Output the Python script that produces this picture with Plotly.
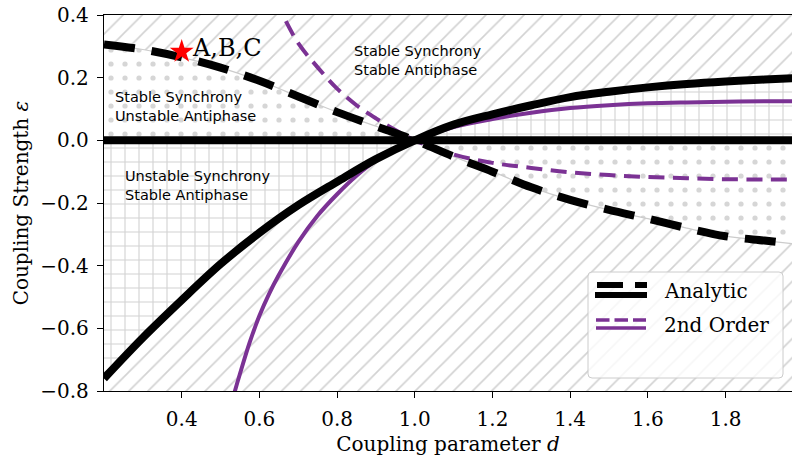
import plotly.graph_objects as go

# ---------------- data ----------------
X_RANGE = [0.2, 1.971]
Y_RANGE = [-0.8, 0.4]
X_TICKS = [0.4, 0.6, 0.8, 1.0, 1.2, 1.4, 1.6, 1.8]
X_TICK_LABELS = ["0.4", "0.6", "0.8", "1.0", "1.2", "1.4", "1.6", "1.8"]
Y_TICKS = [-0.8, -0.6, -0.4, -0.2, 0.0, 0.2, 0.4]
Y_TICK_LABELS = ["\u22120.8", "\u22120.6", "\u22120.4", "\u22120.2", "0.0", "0.2", "0.4"]

d_analytic = [0.2, 0.3, 0.4, 0.5, 0.6, 0.7, 0.8, 0.9, 1.0, 1.1, 1.2, 1.3,
              1.4, 1.5, 1.6, 1.7, 1.8, 1.9, 1.975]
eps_sync_analytic = [-0.76, -0.63, -0.51, -0.395, -0.295, -0.207, -0.132, -0.06, 0.0,
                     0.05, 0.083, 0.112, 0.138, 0.155, 0.169, 0.18, 0.188, 0.194, 0.198]
eps_anti_analytic = [0.306, 0.29, 0.265, 0.232, 0.19, 0.14, 0.09, 0.045, 0.0,
                     -0.052, -0.1, -0.15, -0.19, -0.222, -0.25, -0.28, -0.306, -0.32, -0.33]

d_zero = [0.2, 1.975]
eps_zero = [0.0, 0.0]

d_2nd_sync = [0.525, 0.537, 0.55, 0.575, 0.6, 0.625, 0.65, 0.7, 0.75, 0.8, 0.85, 0.9,
              0.95, 1.0, 1.1, 1.2, 1.3, 1.4, 1.5, 1.6, 1.7, 1.8, 1.9, 1.975]
eps_2nd_sync = [-0.855, -0.8, -0.745, -0.645, -0.56, -0.49, -0.43, -0.325, -0.24, -0.172,
                -0.113, -0.065, -0.029, 0.0, 0.042, 0.068, 0.088, 0.103, 0.112, 0.118,
                0.121, 0.123, 0.125, 0.125]

d_2nd_anti = [0.64, 0.66, 0.7, 0.75, 0.8, 0.85, 0.9, 0.95, 1.0, 1.1, 1.2, 1.3,
              1.4, 1.5, 1.6, 1.7, 1.8, 1.9, 1.975]
eps_2nd_anti = [0.45, 0.40, 0.31, 0.233, 0.165, 0.112, 0.07, 0.033, 0.0, -0.045,
                -0.072, -0.088, -0.102, -0.111, -0.117, -0.121, -0.124, -0.125, -0.125]

star_d = [0.4]
star_eps = [0.283]
star_label = "A,B,C"

region_labels = ["Stable Synchrony<br>Stable Antiphase",
                 "Stable Synchrony<br>Unstable Antiphase",
                 "Unstable Synchrony<br>Stable Antiphase"]
region_d = [0.838, 0.223, 0.249]
region_eps = [0.255, 0.108, -0.145]

legend_labels = ["Analytic", "2nd Order"]

# ---------------- styling ----------------
W, H = 792, 457
ML, MR, MT, MB = 104, 0, 15, 66
PW, PH = W - ML - MR, H - MT - MB
BLACK = "#000000"
PURPLE = "#7b3294"
HATCH = "#d2d2d2"
SERIF = "DejaVu Serif"
SANS = "DejaVu Sans"


def px(xp):
    return (xp - ML) / PW


def py(yp):
    return (H - MB - yp) / PH


fig = go.Figure()

# background diagonal hatch over the whole axes
fig.add_trace(go.Scatter(
    x=[X_RANGE[0], X_RANGE[1], X_RANGE[1], X_RANGE[0], X_RANGE[0]],
    y=[Y_RANGE[0], Y_RANGE[0], Y_RANGE[1], Y_RANGE[1], Y_RANGE[0]],
    mode="lines", line=dict(width=0, color="rgba(0,0,0,0)"), fill="toself",
    fillpattern=dict(shape="/", fgcolor=HATCH, bgcolor="white", size=13.5,
                     solidity=0.12, fillmode="replace"),
    hoverinfo="skip"))

# grid hatch: between synchrony boundary and zero
fig.add_trace(go.Scatter(
    x=d_analytic, y=eps_sync_analytic, mode="lines",
    line=dict(width=1.2, color="#cccccc", shape="spline"), fill="tozeroy",
    fillpattern=dict(shape="+", fgcolor=HATCH, bgcolor="white", size=14,
                     solidity=0.15, fillmode="replace"),
    hoverinfo="skip"))

# dotted hatch: between antiphase boundary and zero
fig.add_trace(go.Scatter(
    x=d_analytic, y=eps_anti_analytic, mode="lines",
    line=dict(width=1.2, color="#cccccc", shape="spline"), fill="tozeroy",
    fillpattern=dict(shape=".", fgcolor="#d6d6d6", bgcolor="white", size=14,
                     solidity=0.11, fillmode="replace"),
    hoverinfo="skip"))

# second order curves
fig.add_trace(go.Scatter(x=d_2nd_sync, y=eps_2nd_sync, mode="lines",
                         line=dict(color=PURPLE, width=4, shape="spline")))
fig.add_trace(go.Scatter(x=d_2nd_anti, y=eps_2nd_anti, mode="lines",
                         line=dict(color=PURPLE, width=4, dash="16px,8.5px", shape="spline")))

# analytic curves
fig.add_trace(go.Scatter(x=d_zero, y=eps_zero, mode="lines",
                         line=dict(color=BLACK, width=8)))
fig.add_trace(go.Scatter(x=d_analytic, y=eps_sync_analytic, mode="lines",
                         line=dict(color=BLACK, width=8, shape="spline")))
fig.add_trace(go.Scatter(x=d_analytic, y=eps_anti_analytic, mode="lines",
                         line=dict(color=BLACK, width=8, dash="31px,17px", shape="spline")))

# star
fig.add_trace(go.Scatter(x=star_d, y=star_eps, mode="markers",
                         marker=dict(symbol="star", size=18, color="red",
                                     line=dict(width=0)), cliponaxis=False))

annotations = []
annotations.append(dict(x=star_d[0], y=star_eps[0], xref="x", yref="y", text=star_label,
                        showarrow=False, xanchor="left", yanchor="middle", xshift=8, yshift=4,
                        font=dict(family=SERIF, size=24, color="black")))
for lab, xd, ye in zip(region_labels, region_d, region_eps):
    annotations.append(dict(x=xd, y=ye, xref="x", yref="y", text=lab, showarrow=False,
                            xanchor="left", yanchor="middle", align="left",
                            font=dict(family=SANS, size=14.5, color="black")))

# custom legend
shapes = []
x0, x1, y0, y1 = px(588), px(783), py(378), py(272)
rx, ry = 4 / PW, 4 / PH
path = (f"M{x0+rx},{y0} L{x1-rx},{y0} Q{x1},{y0} {x1},{y0+ry} L{x1},{y1-ry} "
        f"Q{x1},{y1} {x1-rx},{y1} L{x0+rx},{y1} Q{x0},{y1} {x0},{y1-ry} "
        f"L{x0},{y0+ry} Q{x0},{y0} {x0+rx},{y0} Z")
shapes.append(dict(type="path", path=path, xref="paper", yref="paper",
                   fillcolor="rgba(255,255,255,0.8)", line=dict(color="#cccccc", width=1)))
shapes.append(dict(type="line", xref="paper", yref="paper", x0=px(597), x1=px(647),
                   y0=py(285), y1=py(285), line=dict(color=BLACK, width=6, dash="26px,12px")))
shapes.append(dict(type="line", xref="paper", yref="paper", x0=px(595), x1=px(647),
                   y0=py(295), y1=py(295), line=dict(color=BLACK, width=6)))
shapes.append(dict(type="line", xref="paper", yref="paper", x0=px(596), x1=px(646),
                   y0=py(320), y1=py(320), line=dict(color=PURPLE, width=3.5, dash="13.5px,5px")))
shapes.append(dict(type="line", xref="paper", yref="paper", x0=px(596), x1=px(646),
                   y0=py(328), y1=py(328), line=dict(color=PURPLE, width=3.5)))
for lab, yc in zip(legend_labels, [291, 325]):
    annotations.append(dict(x=px(662), y=py(yc), xref="paper", yref="paper", text=lab,
                            showarrow=False, xanchor="left", yanchor="middle",
                            font=dict(family=SERIF, size=20, color="black")))

fig.update_layout(
    width=W, height=H, margin=dict(l=ML, r=MR, t=MT, b=MB),
    paper_bgcolor="white", plot_bgcolor="white", showlegend=False,
    annotations=annotations, shapes=shapes,
    xaxis=dict(range=X_RANGE, tickvals=X_TICKS, ticktext=X_TICK_LABELS,
               ticks="outside", ticklen=6, tickwidth=1.3, tickcolor="black",
               ticklabelstandoff=4,
               showline=True, linecolor="black", linewidth=1.3, mirror=True,
               showgrid=False, zeroline=False,
               tickfont=dict(family=SERIF, size=20, color="black"),
               title=dict(text="Coupling parameter <i>d</i>", standoff=6,
                          font=dict(family=SERIF, size=20, color="black"))),
    yaxis=dict(range=Y_RANGE, tickvals=Y_TICKS, ticktext=Y_TICK_LABELS,
               ticks="outside", ticklen=6, tickwidth=1.3, tickcolor="black",
               ticklabelstandoff=4,
               showline=True, linecolor="black", linewidth=1.3, mirror=False,
               showgrid=False, zeroline=False,
               tickfont=dict(family=SERIF, size=20, color="black"),
               title=dict(text="Coupling Strength <i>\u03b5</i>", standoff=6,
                          font=dict(family=SERIF, size=20, color="black"))),
)

fig.write_html("out.html")
